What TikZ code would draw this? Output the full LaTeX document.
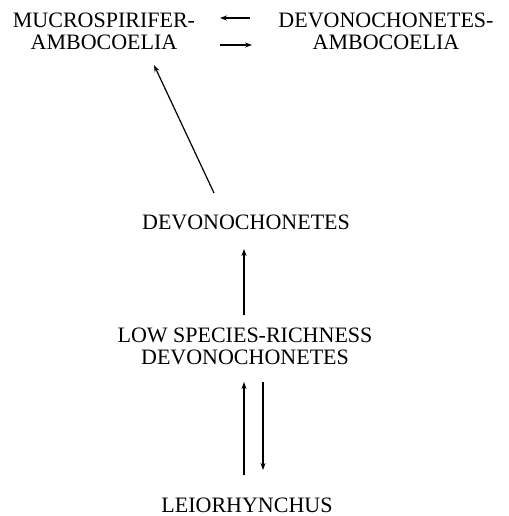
\documentclass[tikz,border=0pt]{standalone}
\usepackage{fontspec}
\setmainfont{Liberation Serif}
\usetikzlibrary{arrows.meta}

\tikzset{
  taxon/.style={align=center,inner sep=2pt,font=\fontsize{22}{22}\selectfont},
  link/.style={line width=1.2pt,-{Stealth[length=7pt,width=5pt]}}
}

\begin{document}
\begin{tikzpicture}[x=1pt,y=1pt]
\useasboundingbox (0,0) rectangle (508,-516);
\node[taxon] (mucro-ambo) at (104,-31) {MUCROSPIRIFER-\\AMBOCOELIA};
\node[taxon] (devon-ambo) at (386,-31) {DEVONOCHONETES-\\AMBOCOELIA};
\node[taxon] (devon) at (246,-222) {DEVONOCHONETES};
\node[taxon] (low-rich) at (245,-346) {LOW SPECIES-RICHNESS\\DEVONOCHONETES};
\node[taxon] (leio) at (247,-505) {LEIORHYNCHUS};
% top pair
\draw[link] ([xshift=-136pt,yshift=13pt]devon-ambo.center) -- ([xshift=116pt,yshift=13pt]mucro-ambo.center);
\draw[link] ([xshift=116pt,yshift=-14pt]mucro-ambo.center) -- ([xshift=-134pt,yshift=-14pt]devon-ambo.center);
% diagonal
\draw[link] ([xshift=-32pt,yshift=29pt]devon.center) -- ([xshift=50pt,yshift=-34pt]mucro-ambo.center);
\draw[link] ([xshift=-1pt,yshift=31pt]low-rich.center) -- ([xshift=-2pt,yshift=-27pt]devon.center);
\draw[link] ([xshift=-3pt,yshift=30pt]leio.center) -- ([xshift=-3pt,yshift=123pt]leio.center);
\draw[link] ([xshift=16pt,yshift=123pt]leio.center) -- ([xshift=16pt,yshift=35pt]leio.center);
\end{tikzpicture}
\end{document}
